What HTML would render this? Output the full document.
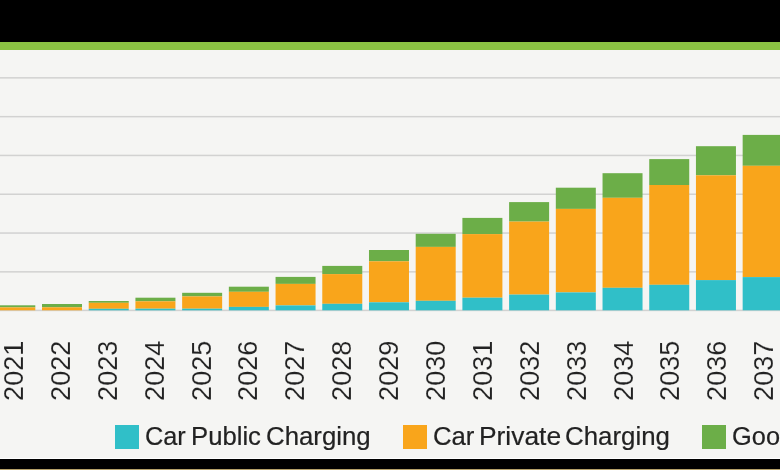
<!DOCTYPE html>
<html><head><meta charset="utf-8"><style>
html,body{margin:0;padding:0;}
body{width:780px;height:470px;overflow:hidden;background:#F5F5F3;position:relative;font-family:"Liberation Sans",sans-serif;}
.top{position:absolute;left:0;top:0;width:780px;height:42px;background:#000;}
.gl{position:absolute;left:0;top:42px;width:780px;height:8.3px;background:#8BC243;}
.wl{position:absolute;left:0;top:457.6px;width:780px;height:1.4px;background:#fff;}
.bot{position:absolute;left:0;top:459px;width:780px;height:10px;background:#000;}
.gold{position:absolute;left:0;top:469px;width:780px;height:1px;background:#B5A169;}
svg{position:absolute;left:0;top:0;will-change:transform;}
.yl{font-family:"Liberation Sans",sans-serif;font-size:28px;fill:#222;stroke:#F5F5F3;stroke-width:0.12px;paint-order:fill stroke;}
.sq{position:absolute;top:425px;width:24px;height:24px;}
.lt{position:absolute;top:420.6px;font-size:26px;line-height:30px;color:#222;-webkit-text-stroke:0.2px #222;white-space:nowrap;transform-origin:0 50%;transform:scaleX(0.966);}
</style></head><body>
<svg width="780" height="470" viewBox="0 0 780 470">
<rect x="0" y="77.10" width="780" height="1.5" fill="#D2D2D1"/>
<rect x="0" y="115.90" width="780" height="1.5" fill="#D2D2D1"/>
<rect x="0" y="154.70" width="780" height="1.5" fill="#D2D2D1"/>
<rect x="0" y="193.50" width="780" height="1.5" fill="#D2D2D1"/>
<rect x="0" y="232.30" width="780" height="1.5" fill="#D2D2D1"/>
<rect x="0" y="271.10" width="780" height="1.5" fill="#D2D2D1"/>
<rect x="0" y="309.65" width="780" height="1.5" fill="#D2D2D1"/>
<rect x="-4.70" y="305.30" width="40" height="2.10" fill="#6CAE48"/>
<rect x="-4.70" y="307.40" width="40" height="2.90" fill="#F9A51B"/>
<rect x="42.01" y="304.00" width="40" height="3.30" fill="#6CAE48"/>
<rect x="42.01" y="307.30" width="40" height="3.00" fill="#F9A51B"/>
<rect x="88.72" y="301.00" width="40" height="1.80" fill="#6CAE48"/>
<rect x="88.72" y="302.80" width="40" height="6.00" fill="#F9A51B"/>
<rect x="88.72" y="308.80" width="40" height="1.50" fill="#30BFC8"/>
<rect x="135.43" y="297.70" width="40" height="3.60" fill="#6CAE48"/>
<rect x="135.43" y="301.30" width="40" height="7.40" fill="#F9A51B"/>
<rect x="135.43" y="308.70" width="40" height="1.60" fill="#30BFC8"/>
<rect x="182.14" y="292.80" width="40" height="3.60" fill="#6CAE48"/>
<rect x="182.14" y="296.40" width="40" height="12.30" fill="#F9A51B"/>
<rect x="182.14" y="308.70" width="40" height="1.60" fill="#30BFC8"/>
<rect x="228.85" y="286.70" width="40" height="5.10" fill="#6CAE48"/>
<rect x="228.85" y="291.80" width="40" height="15.10" fill="#F9A51B"/>
<rect x="228.85" y="306.90" width="40" height="3.40" fill="#30BFC8"/>
<rect x="275.56" y="276.90" width="40" height="7.00" fill="#6CAE48"/>
<rect x="275.56" y="283.90" width="40" height="21.50" fill="#F9A51B"/>
<rect x="275.56" y="305.40" width="40" height="4.90" fill="#30BFC8"/>
<rect x="322.27" y="265.90" width="40" height="8.20" fill="#6CAE48"/>
<rect x="322.27" y="274.10" width="40" height="29.70" fill="#F9A51B"/>
<rect x="322.27" y="303.80" width="40" height="6.50" fill="#30BFC8"/>
<rect x="368.98" y="250.00" width="40" height="11.30" fill="#6CAE48"/>
<rect x="368.98" y="261.30" width="40" height="41.00" fill="#F9A51B"/>
<rect x="368.98" y="302.30" width="40" height="8.00" fill="#30BFC8"/>
<rect x="415.69" y="233.80" width="40" height="13.10" fill="#6CAE48"/>
<rect x="415.69" y="246.90" width="40" height="53.90" fill="#F9A51B"/>
<rect x="415.69" y="300.80" width="40" height="9.50" fill="#30BFC8"/>
<rect x="462.40" y="217.90" width="40" height="16.20" fill="#6CAE48"/>
<rect x="462.40" y="234.10" width="40" height="63.60" fill="#F9A51B"/>
<rect x="462.40" y="297.70" width="40" height="12.60" fill="#30BFC8"/>
<rect x="509.11" y="202.10" width="40" height="19.50" fill="#6CAE48"/>
<rect x="509.11" y="221.60" width="40" height="73.00" fill="#F9A51B"/>
<rect x="509.11" y="294.60" width="40" height="15.70" fill="#30BFC8"/>
<rect x="555.82" y="187.70" width="40" height="21.20" fill="#6CAE48"/>
<rect x="555.82" y="208.90" width="40" height="83.50" fill="#F9A51B"/>
<rect x="555.82" y="292.40" width="40" height="17.90" fill="#30BFC8"/>
<rect x="602.53" y="173.20" width="40" height="24.60" fill="#6CAE48"/>
<rect x="602.53" y="197.80" width="40" height="90.00" fill="#F9A51B"/>
<rect x="602.53" y="287.80" width="40" height="22.50" fill="#30BFC8"/>
<rect x="649.24" y="159.10" width="40" height="25.90" fill="#6CAE48"/>
<rect x="649.24" y="185.00" width="40" height="99.80" fill="#F9A51B"/>
<rect x="649.24" y="284.80" width="40" height="25.50" fill="#30BFC8"/>
<rect x="695.95" y="146.20" width="40" height="29.10" fill="#6CAE48"/>
<rect x="695.95" y="175.30" width="40" height="104.80" fill="#F9A51B"/>
<rect x="695.95" y="280.10" width="40" height="30.20" fill="#30BFC8"/>
<rect x="742.66" y="134.90" width="40" height="30.90" fill="#6CAE48"/>
<rect x="742.66" y="165.80" width="40" height="111.30" fill="#F9A51B"/>
<rect x="742.66" y="277.10" width="40" height="33.20" fill="#30BFC8"/>
<text transform="translate(23.00,400.9) rotate(-90) scale(0.966,1)" class="yl">2021</text>
<text transform="translate(69.89,400.9) rotate(-90) scale(0.966,1)" class="yl">2022</text>
<text transform="translate(116.78,400.9) rotate(-90) scale(0.966,1)" class="yl">2023</text>
<text transform="translate(163.67,400.9) rotate(-90) scale(0.966,1)" class="yl">2024</text>
<text transform="translate(210.56,400.9) rotate(-90) scale(0.966,1)" class="yl">2025</text>
<text transform="translate(257.45,400.9) rotate(-90) scale(0.966,1)" class="yl">2026</text>
<text transform="translate(304.34,400.9) rotate(-90) scale(0.966,1)" class="yl">2027</text>
<text transform="translate(351.23,400.9) rotate(-90) scale(0.966,1)" class="yl">2028</text>
<text transform="translate(398.12,400.9) rotate(-90) scale(0.966,1)" class="yl">2029</text>
<text transform="translate(445.01,400.9) rotate(-90) scale(0.966,1)" class="yl">2030</text>
<text transform="translate(491.90,400.9) rotate(-90) scale(0.966,1)" class="yl">2031</text>
<text transform="translate(538.79,400.9) rotate(-90) scale(0.966,1)" class="yl">2032</text>
<text transform="translate(585.68,400.9) rotate(-90) scale(0.966,1)" class="yl">2033</text>
<text transform="translate(632.57,400.9) rotate(-90) scale(0.966,1)" class="yl">2034</text>
<text transform="translate(679.46,400.9) rotate(-90) scale(0.966,1)" class="yl">2035</text>
<text transform="translate(726.35,400.9) rotate(-90) scale(0.966,1)" class="yl">2036</text>
<text transform="translate(773.24,400.9) rotate(-90) scale(0.966,1)" class="yl">2037</text>
</svg>
<div class="top"></div><div class="gl"></div>
<div class="sq" style="left:115px;background:#30BFC8"></div>
<div class="lt" style="left:144.58px;transform:scaleX(0.9739)">Car</div><div class="lt" style="left:190.88px;transform:scaleX(0.9875)">Public</div><div class="lt" style="left:265.86px;transform:scaleX(0.9922)">Charging</div>
<div class="sq" style="left:403.3px;background:#F9A51B"></div>
<div class="lt" style="left:432.76px;transform:scaleX(0.9888)">Car</div><div class="lt" style="left:479.32px;transform:scaleX(1.0142)">Private</div><div class="lt" style="left:565.46px;transform:scaleX(0.9941)">Charging</div>
<div class="sq" style="left:702px;background:#6CAE48"></div>
<div class="lt" style="left:732.1px;transform:scaleX(0.975);letter-spacing:0.1px">Goods</div>
<div class="wl"></div><div class="bot"></div><div class="gold"></div>
</body></html>
